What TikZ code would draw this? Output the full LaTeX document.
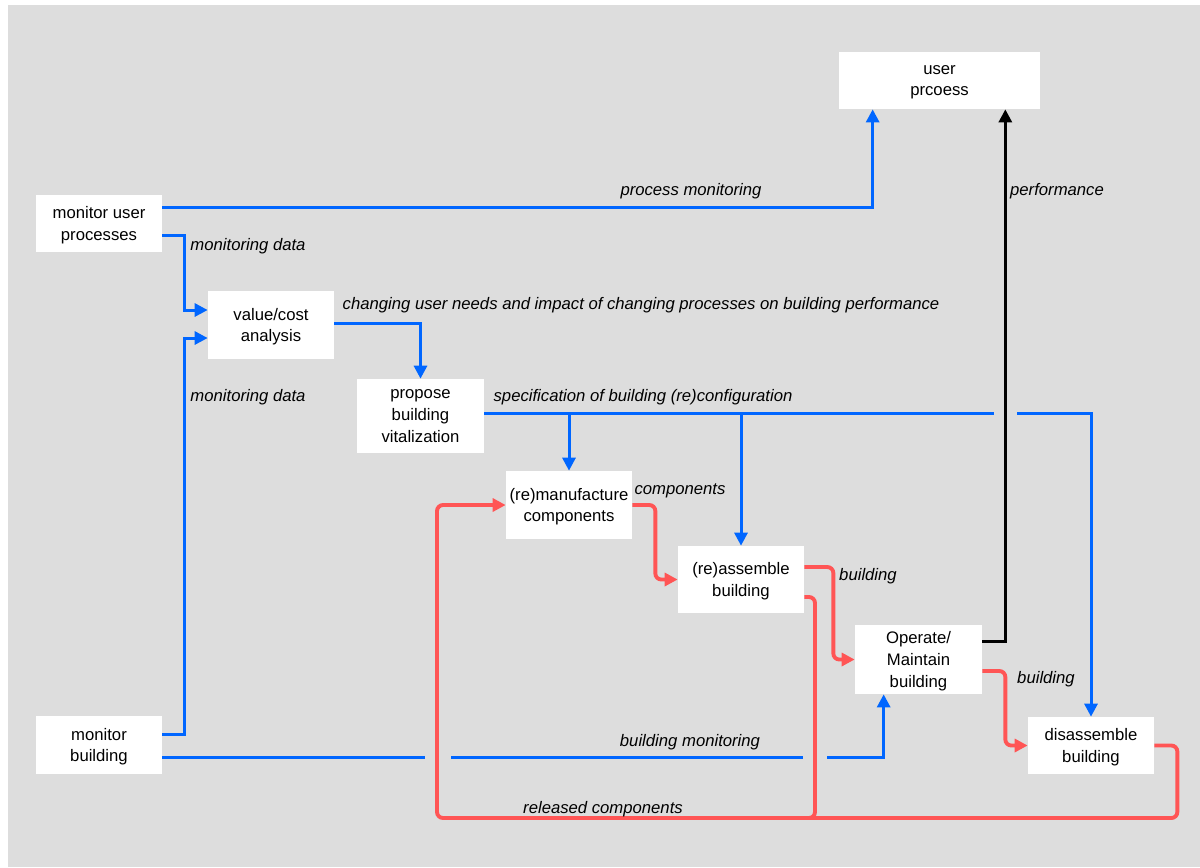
\documentclass[tikz,border=0pt]{standalone}
\usepackage{fontspec}
\setmainfont{Liberation Sans}
\usetikzlibrary{arrows.meta,calc}
\definecolor{bggray}{HTML}{DDDDDD}
\definecolor{flowblue}{HTML}{0066FF}
\definecolor{flowred}{HTML}{FF5555}
\tikzset{
  box/.style={fill=white, align=center, inner sep=0pt, text depth=-2.5pt, font=\fontsize{9.5}{12.3}\selectfont},
  lbl/.style={font=\fontsize{9.5}{12.5}\selectfont\itshape, inner sep=0pt},
  blueflow/.style={draw=flowblue, line width=1.7pt},
  redflow/.style={draw=flowred, line width=2.2pt, rounded corners=0.12cm},
  blackflow/.style={draw=black, line width=1.7pt}
}
\begin{document}
\begin{tikzpicture}[x=0.02cm, y=-0.02cm, >={Triangle[length=0.26cm,width=0.26cm]}]
			\useasboundingbox (0,0) rectangle (1200,867);
			\fill[bggray] (8,5) rectangle (1200,867);
			
			% boxes
			\node[box, minimum width=2.52cm, minimum height=1.14cm] (mup) at (99,223.5) {monitor user\\processes};
			\node[box, minimum width=4.02cm, minimum height=1.14cm] (up) at (939.5,80.5) {user\\prcoess};
			\node[box, minimum width=2.52cm, minimum height=1.36cm] (vca) at (271,325) {value/cost\\analysis};
			\node[box, minimum width=2.54cm, minimum height=1.48cm] (pbv) at (420.5,416) {propose\\building\\vitalization};
			\node[box, minimum width=2.52cm, minimum height=1.36cm] (rmc) at (569,505) {(re)manufacture\\components};
			\node[box, minimum width=2.52cm, minimum height=1.34cm] (rab) at (741,579.5) {(re)assemble\\building};
			\node[box, minimum width=2.54cm, minimum height=1.38cm] (omb) at (918.5,659.5) {Operate/\\Maintain\\building};
			\node[box, minimum width=2.52cm, minimum height=1.14cm] (dab) at (1091,745.5) {disassemble\\building};
			\node[box, minimum width=2.52cm, minimum height=1.16cm] (mb) at (99,745) {monitor\\building};
			
			% crossings
			\coordinate (spec) at ($(pbv.east)+(0,-3)$);
			\coordinate (specL) at (994,413);
			\coordinate (specR) at (1017,413);
			\coordinate (bmon) at ($(mb.east)+(0,12)$);
			\coordinate (bmonA) at (425,757);
			\coordinate (bmonB) at (451,757);
			\coordinate (bmonC) at (803,757);
			\coordinate (bmonD) at (827,757);
			\coordinate (relL) at (437,818);
			\coordinate (relR) at (815,818);
			
			% information flows
			\draw[blueflow, ->] ($(mup.east)+(0,-16.5)$) -| ($(up.south west)+(34,0)$);
			\draw[blueflow, ->] ($(mup.east)+(0,11.5)$) -- ++(22,0) |- ($(vca.west)+(0,-15)$);
			\draw[blueflow, ->] ($(mb.east)+(0,-11)$) -- ++(22,0) |- ($(vca.west)+(0,13)$);
			\draw[blueflow, ->] ($(vca.east)+(0,-2)$) -| (pbv.north);
			\draw[blueflow] (spec) -- (specL);
			\draw[blueflow, ->] (specR) -| (dab.north);
			\draw[blueflow, ->] (rmc.north |- spec) -- (rmc.north);
			\draw[blueflow, ->] (rab.north |- spec) -- (rab.north);
			\draw[blueflow] (bmon) -- (bmonA);
			\draw[blueflow] (bmonB) -- (bmonC);
			\draw[blueflow, ->] (bmonD) -| ($(omb.south west)+(29,0)$);
			\draw[blackflow, ->] ($(omb.east)+(0,-18.5)$) -| ($(up.south east)+(-35,0)$);
			
			% material flows
			\draw[redflow, ->] (rmc.east) -- ++(23,0) |- (rab.west);
			\draw[redflow, ->] ($(rab.east)+(0,-12.5)$) -- ++(29,0) |- (omb.west);
			\draw[redflow, ->] ($(omb.east)+(0,11.5)$) -- ++(23,0) |- (dab.west);
			\draw[redflow] ($(rab.east)+(0,17.5)$) -| (relR) -- ++(-15,0);
			\draw[redflow, ->] (dab.east) -- ++(23,0) |- (relL) |- (rmc.west);
			
			% labels
			\node[lbl] (l1) at (691,191) {process monitoring};
			\node[lbl] (l2) at (1057,191) {performance};
			\node[lbl] (l3) at (248,246) {monitoring data};
			\node[lbl] (l4) at (641,305) {changing user needs and impact of changing processes on building performance};
			\node[lbl] (l5) at (248,397) {monitoring data};
			\node[lbl] (l6) at (643,397) {specification of building (re)configuration};
			\node[lbl] (l7) at (680,491) {components};
			\node[lbl] (l8) at (868,576) {building};
			\node[lbl] (l9) at (1046,679) {building};
			\node[lbl] (l10) at (690,742) {building monitoring};
			\node[lbl] (l11) at (603,809) {released components};
			
		\end{tikzpicture}
\end{document}
